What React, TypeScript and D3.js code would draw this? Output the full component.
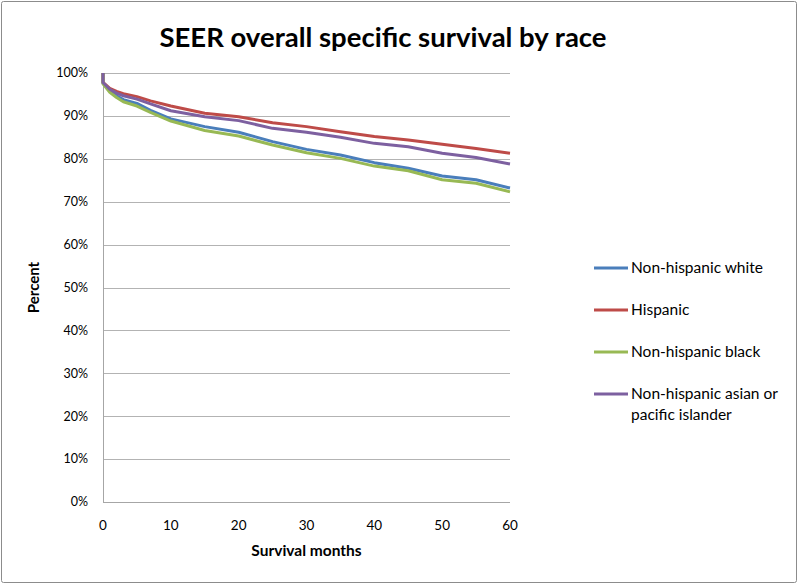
import * as d3 from "d3";

const months = [0, 0, 1, 2, 3, 5, 7, 10, 15, 20, 25, 30, 35, 40, 45, 50, 55, 60];

const white = [100, 97.6, 95.8, 94.7, 93.8, 92.9, 91.3, 89.3, 87.5, 86.2, 84.0, 82.2, 80.9, 79.1, 77.8, 76.0, 75.1, 73.2];
const hispanic = [100, 97.8, 96.4, 95.7, 95.2, 94.5, 93.5, 92.3, 90.6, 89.8, 88.4, 87.5, 86.3, 85.2, 84.4, 83.4, 82.4, 81.3];
const black = [100, 97.5, 95.5, 94.3, 93.3, 92.3, 90.8, 88.8, 86.6, 85.3, 83.2, 81.4, 80.1, 78.3, 77.2, 75.1, 74.3, 72.3];
const asian = [100, 97.8, 96.2, 95.3, 94.7, 93.9, 92.8, 91.2, 89.8, 88.9, 87.1, 86.2, 85.0, 83.6, 82.8, 81.3, 80.3, 78.8];

const seriesNames = [
  ["Non-hispanic white"],
  ["Hispanic"],
  ["Non-hispanic black"],
  ["Non-hispanic asian or", "pacific islander"],
];
const seriesValues = [white, hispanic, black, asian];
const colors = ["#4a7ebb", "#be4b48", "#98b954", "#7d60a0"];

const xTicks = [0, 10, 20, 30, 40, 50, 60];
const yTicks = [0, 10, 20, 30, 40, 50, 60, 70, 80, 90, 100];

const W = 800;
const H = 584;
const margin = { top: 73, right: 290, bottom: 82, left: 103 };
const font = "Lato, 'Open Sans', sans-serif";

export default function App() {
  const x = d3.scaleLinear().domain([0, 60]).range([margin.left, W - margin.right]);
  const y = d3.scaleLinear().domain([0, 100]).range([H - margin.bottom, margin.top]);

  const line = d3
    .line<number>()
    .x((_, i) => x(months[i]))
    .y((d) => y(d));

  const legendY = d3.scaleLinear().domain([0, 1]).range([268, 310]);

  return (
    <svg
      width={W}
      height={H}
      style={{ position: "absolute", left: 0, top: 0, fontFamily: font }}
    >
      <rect x={1.5} y={1.5} width={W - 5} height={H - 3} fill="#fff" stroke="#8c8c8c" rx={2} />
      <text x={383} y={47} textAnchor="middle" fontSize={27.5} fontWeight={700} fill="#000">
        SEER overall specific survival by race
      </text>

      {/* grid */}
      {yTicks.map((t) => (
        <g key={t}>
          <line
            x1={x(0)}
            x2={x(60)}
            y1={Math.round(y(t)) + 0.5}
            y2={Math.round(y(t)) + 0.5}
            stroke={t === 0 ? "#a6a6a6" : "#b3b3b3"}
            strokeWidth={1}
          />
          <text x={88} y={y(t)} dy="0.35em" textAnchor="end" fontSize={12.5} fill="#000">
            {t}%
          </text>
        </g>
      ))}
      <line
        x1={Math.round(x(0)) + 0.5}
        x2={Math.round(x(0)) + 0.5}
        y1={y(100)}
        y2={y(0)}
        stroke="#a6a6a6"
      />
      {xTicks.map((t) => (
        <text key={t} x={x(t)} y={530} textAnchor="middle" fontSize={13.5} fill="#000">
          {t}
        </text>
      ))}
      <text x={x(30)} y={556} textAnchor="middle" fontSize={15.5} fontWeight={700}>
        Survival months
      </text>
      <text
        transform={`translate(39,${y(50)}) rotate(-90)`}
        textAnchor="middle"
        fontSize={15}
        fontWeight={700}
      >
        Percent
      </text>

      {seriesValues.map((vals, i) => (
        <path
          key={i}
          d={line(vals) ?? ""}
          fill="none"
          stroke={colors[i]}
          strokeWidth={3}
          strokeLinejoin="round"
        />
      ))}

      {seriesNames.map((lines, i) => (
        <g key={i} transform={`translate(0,${legendY(i)})`}>
          <line x1={594} x2={628} y1={0} y2={0} stroke={colors[i]} strokeWidth={3} />
          {lines.map((l, j) => (
            <text key={j} x={631} y={j * 21} dy="0.35em" fontSize={15.5} fill="#000">
              {l}
            </text>
          ))}
        </g>
      ))}
    </svg>
  );
}
